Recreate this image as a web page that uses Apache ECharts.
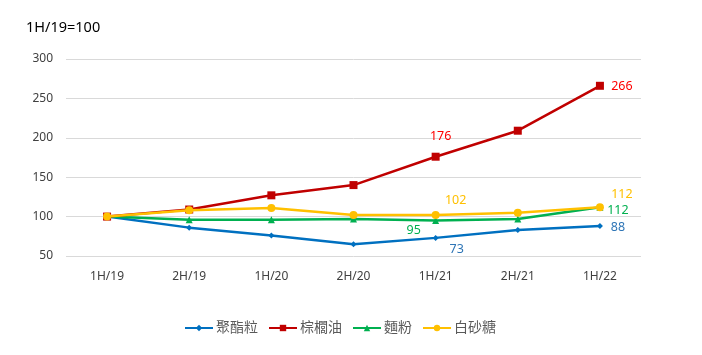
<!DOCTYPE html>
<html><head><meta charset="utf-8">
<script src="https://cdn.jsdelivr.net/npm/echarts@6/dist/echarts.min.js"></script>
<style>html,body{margin:0;padding:0;background:#fff}#c{width:702px;height:355px}</style>
</head><body><div id="c"></div>
<script>
var categories = ['1H/19','2H/19','1H/20','2H/20','1H/21','2H/21','1H/22'];
var polyester = [100, 86, 76, 65, 73, 83, 88];
var palmOil = [100, 109, 127, 140, 176, 209, 266];
var flour = [100, 96, 96, 97, 95, 97, 112];
var sugar = [100, 108, 111, 102, 102, 105, 112];
var seriesNames = ['聚酯粒','棕櫚油','麵粉','白砂糖'];
var yTicks = [50, 100, 150, 200, 250, 300];

var FONT = '"Noto Sans", "Noto Sans CJK TC", sans-serif';

function withLabels(values, labelMap, color) {
  return values.map(function (v, i) {
    var l = labelMap[i];
    if (!l) return v;
    return { value: v, label: { show: true, position: 'inside', offset: l, color: color, fontSize: 12.5, fontFamily: FONT, formatter: '{c}' } };
  });
}

var chart = echarts.init(document.getElementById('c'));
chart.setOption({
  animation: false,
  title: { text: '1H/19=100', left: 21, top: 16, textStyle: { fontSize: 14.5, fontWeight: 'normal', color: '#000', fontFamily: FONT } },
  grid: { left: 66, right: 61, top: 59, bottom: 99 },
  legend: {
    top: 316, left: 179, itemWidth: 28, itemHeight: 8, itemGap: 10,
    textStyle: { fontSize: 14, color: '#595959', fontFamily: FONT, padding: [0, 0, 0, -2] },
    data: seriesNames
  },
  xAxis: {
    type: 'category', data: categories, boundaryGap: true,
    axisLine: { show: false }, axisTick: { show: false },
    axisLabel: { color: '#404040', fontSize: 12, margin: 15, fontFamily: FONT }
  },
  yAxis: {
    type: 'value', min: yTicks[0], max: yTicks[yTicks.length - 1], interval: 50,
    axisLine: { show: false }, axisTick: { show: false },
    axisLabel: { color: '#404040', fontSize: 12, margin: 13, fontFamily: FONT },
    splitLine: { lineStyle: { color: '#d9d9d9', width: 1 } }
  },
  series: [
    { name: seriesNames[0], type: 'line', symbol: 'diamond', symbolSize: 6,
      lineStyle: { color: '#0070C0', width: 2.5 }, itemStyle: { color: '#0070C0' },
      data: withLabels(polyester, { 4: [21, 12], 6: [18, 1] }, '#2E75B6'), z: 2 },
    { name: seriesNames[1], type: 'line', symbol: 'rect', symbolSize: 8,
      lineStyle: { color: '#C00000', width: 2.5 }, itemStyle: { color: '#C00000' },
      data: withLabels(palmOil, { 4: [5, -20], 6: [22, 1] }, '#FF0000'), z: 3 },
    { name: seriesNames[2], type: 'line', symbol: 'triangle', symbolSize: 7,
      lineStyle: { color: '#00B050', width: 2.5 }, itemStyle: { color: '#00B050' },
      data: withLabels(flour, { 4: [-22, 10], 6: [18, 3] }, '#00B050'), z: 2 },
    { name: seriesNames[3], type: 'line', symbol: 'circle', symbolSize: 8,
      lineStyle: { color: '#FFC000', width: 2.5 }, itemStyle: { color: '#FFC000' },
      data: withLabels(sugar, { 4: [20, -15], 6: [22, -13] }, '#FFC000'), z: 4 }
  ]
});
</script></body></html>
